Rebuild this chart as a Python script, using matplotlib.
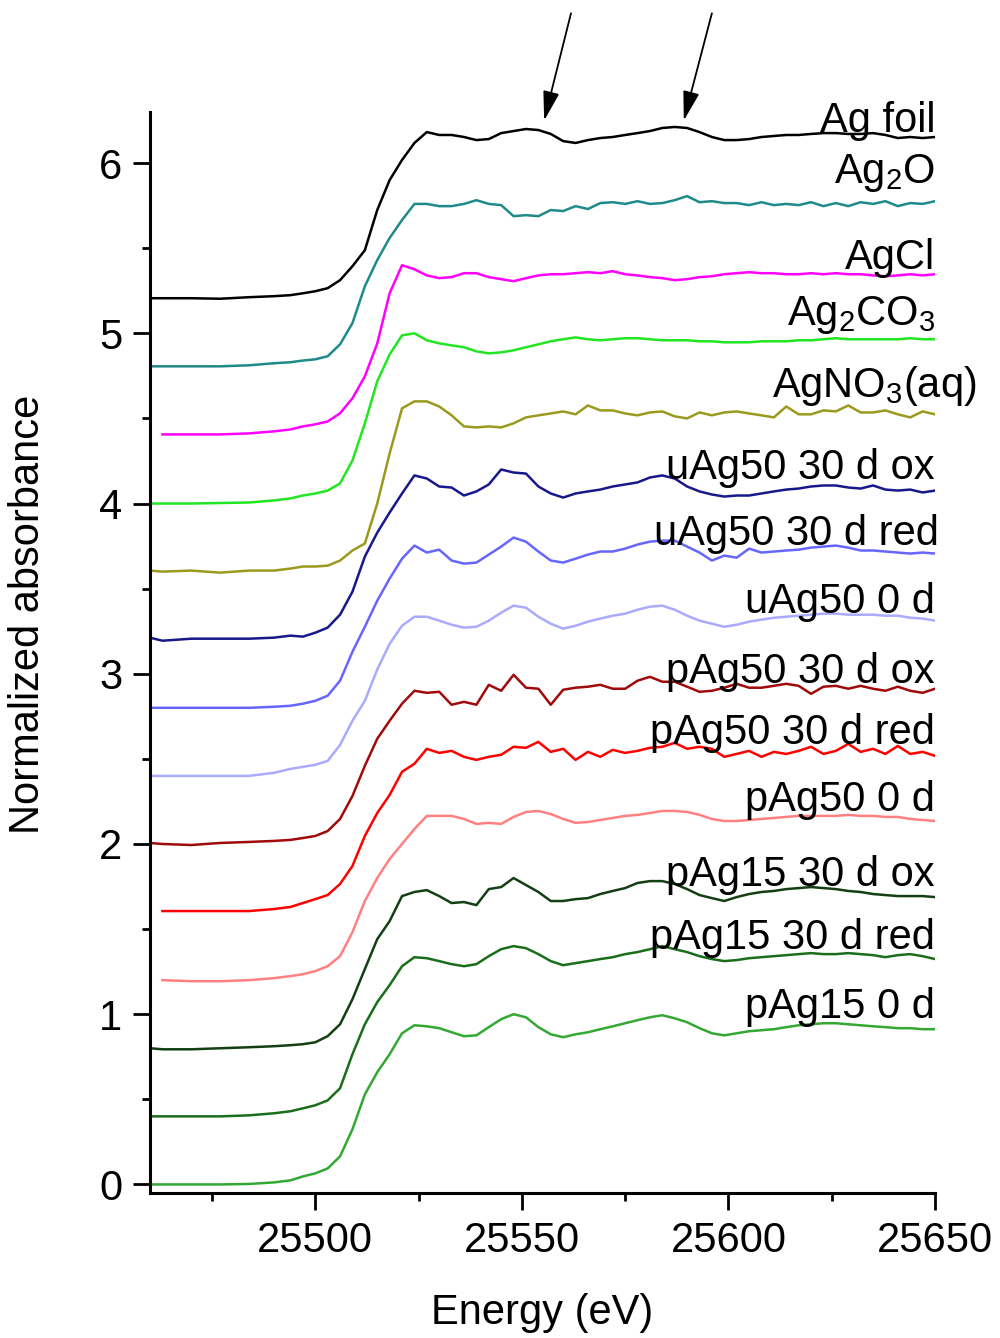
import numpy as np
import matplotlib
matplotlib.use("Agg")
import matplotlib.pyplot as plt
from matplotlib.ticker import MultipleLocator

plt.rcParams["font.family"] = ["Liberation Sans", "DejaVu Sans"]
plt.rcParams["mathtext.default"] = "regular"

nan = np.nan

# energy grid (eV): coarse pre-edge, then 3 eV steps
energy = [25460, 25463, 25470, 25477, 25484, 25490, 25494, 25497,
          25500, 25503, 25506, 25509, 25512, 25515, 25518, 25521, 25524, 25527,
          25530, 25533, 25536, 25539, 25542, 25545, 25548, 25551, 25554, 25557,
          25560, 25563, 25566, 25569, 25572, 25575, 25578, 25581, 25584, 25587,
          25590, 25593, 25596, 25599, 25602, 25605, 25608, 25611, 25614, 25617,
          25620, 25623, 25626, 25629, 25632, 25635, 25638, 25641, 25644, 25647,
          25650]

# normalized absorbance, bottom to top
pag15_0d = [0, 0, 0, 0, 0.003, 0.012, 0.024, 0.047,
            0.065, 0.094, 0.165, 0.324, 0.529, 0.659, 0.765, 0.888, 0.935, 0.929,
            0.918, 0.894, 0.871, 0.876, 0.924, 0.971, 1.0, 0.982, 0.924, 0.882,
            0.865, 0.882, 0.894, 0.912, 0.929, 0.947, 0.965, 0.982, 0.994, 0.976,
            0.953, 0.918, 0.888, 0.876, 0.888, 0.9, 0.906, 0.912, 0.924, 0.935,
            0.941, 0.947, 0.947, 0.941, 0.935, 0.929, 0.924, 0.918, 0.918, 0.912,
            0.912]
pag15_30d_red = [0, 0, 0, 0, 0.006, 0.018, 0.03, 0.047,
                 0.065, 0.094, 0.165, 0.365, 0.541, 0.671, 0.771, 0.882, 0.935, 0.929,
                 0.912, 0.894, 0.882, 0.894, 0.941, 0.982, 1.0, 0.988, 0.953, 0.912,
                 0.888, 0.9, 0.912, 0.924, 0.935, 0.953, 0.965, 0.982, 1.0, 0.982,
                 0.965, 0.941, 0.924, 0.912, 0.918, 0.929, 0.935, 0.941, 0.947, 0.953,
                 0.959, 0.953, 0.953, 0.959, 0.953, 0.947, 0.935, 0.947, 0.953, 0.941,
                 0.924]
pag15_30d_ox = [0, -0.006, -0.006, 0, 0.006, 0.012, 0.018, 0.024,
                0.035, 0.071, 0.141, 0.288, 0.465, 0.641, 0.747, 0.894, 0.918, 0.929,
                0.894, 0.853, 0.859, 0.841, 0.935, 0.947, 1.0, 0.959, 0.918, 0.865,
                0.865, 0.876, 0.882, 0.906, 0.924, 0.941, 0.971, 0.982, 0.982, 0.965,
                0.935, 0.9, 0.882, 0.865, 0.888, 0.906, 0.918, 0.924, 0.935, 0.941,
                0.947, 0.941, 0.935, 0.924, 0.918, 0.906, 0.9, 0.894, 0.894, 0.894,
                0.888]
pag50_0d = [nan, 0, -0.006, -0.006, 0, 0.012, 0.024, 0.035,
            0.053, 0.082, 0.141, 0.282, 0.465, 0.6, 0.712, 0.8, 0.888, 0.965,
            0.965, 0.965, 0.947, 0.918, 0.924, 0.918, 0.959, 0.988, 0.994, 0.976,
            0.947, 0.924, 0.929, 0.941, 0.953, 0.965, 0.971, 0.982, 0.994, 0.994,
            0.988, 0.971, 0.947, 0.935, 0.935, 0.941, 0.947, 0.953, 0.959, 0.965,
            0.965, 0.965, 0.965, 0.971, 0.965, 0.965, 0.959, 0.959, 0.947, 0.941,
            0.935]
pag50_30d_red = [nan, 0.006, 0.006, 0.006, 0.006, 0.018, 0.03, 0.053,
                 0.076, 0.1, 0.165, 0.271, 0.447, 0.582, 0.688, 0.824, 0.871, 0.959,
                 0.935, 0.947, 0.912, 0.894, 0.912, 0.924, 0.971, 0.965, 1.0, 0.941,
                 0.959, 0.894, 0.941, 0.912, 0.953, 0.935, 0.947, 0.965, 0.971, 0.994,
                 0.959, 0.971, 0.959, 0.912, 0.929, 0.947, 0.912, 0.941, 0.929, 0.947,
                 0.971, 0.929, 0.947, 0.988, 0.941, 0.959, 0.929, 0.976, 0.929, 0.941,
                 0.918]
pag50_30d_ox = [0.006, 0, -0.006, 0.006, 0.012, 0.018, 0.024, 0.035,
                0.047, 0.076, 0.147, 0.282, 0.459, 0.618, 0.724, 0.824, 0.9, 0.888,
                0.894, 0.818, 0.835, 0.818, 0.935, 0.9, 0.994, 0.918, 0.912, 0.818,
                0.906, 0.918, 0.924, 0.935, 0.912, 0.912, 0.959, 0.982, 0.953, 0.953,
                0.924, 0.894, 0.9, 0.918, 0.941, 0.918, 0.918, 0.929, 0.941, 0.929,
                0.882, 0.924, 0.929, 0.912, 0.929, 0.912, 0.9, 0.924, 0.9, 0.888,
                0.912]
uag50_0d = [0, 0, 0, 0, 0, 0.018, 0.041, 0.053,
            0.065, 0.088, 0.182, 0.324, 0.441, 0.625, 0.776, 0.882, 0.935, 0.935,
            0.912, 0.888, 0.871, 0.876, 0.912, 0.959, 1.0, 0.988, 0.935, 0.894,
            0.865, 0.882, 0.906, 0.924, 0.941, 0.953, 0.976, 0.994, 1.0, 0.976,
            0.941, 0.912, 0.894, 0.876, 0.888, 0.906, 0.918, 0.929, 0.935, 0.941,
            0.947, 0.953, 0.953, 0.947, 0.947, 0.947, 0.941, 0.941, 0.929, 0.924,
            0.912]
uag50_30d_red = [0, 0, 0, 0, 0, 0.006, 0.012, 0.024,
                 0.041, 0.071, 0.159, 0.329, 0.476, 0.629, 0.759, 0.876, 0.953, 0.912,
                 0.929, 0.865, 0.847, 0.853, 0.9, 0.947, 1.0, 0.976, 0.918, 0.865,
                 0.853, 0.876, 0.9, 0.918, 0.918, 0.935, 0.959, 0.976, 0.982, 0.982,
                 0.947, 0.912, 0.865, 0.894, 0.882, 0.935, 0.912, 0.918, 0.924, 0.929,
                 0.941, 0.947, 0.953, 0.941, 0.924, 0.924, 0.918, 0.912, 0.906, 0.912,
                 0.906]
uag50_30d_ox = [0.012, -0.006, 0.006, 0.006, 0.006, 0.012, 0.024, 0.018,
                0.041, 0.071, 0.147, 0.282, 0.488, 0.629, 0.747, 0.859, 0.965, 0.947,
                0.9, 0.894, 0.847, 0.871, 0.912, 1.0, 0.982, 0.976, 0.9, 0.859,
                0.835, 0.859, 0.871, 0.882, 0.9, 0.912, 0.924, 0.953, 0.965, 0.947,
                0.9, 0.871, 0.853, 0.841, 0.847, 0.847, 0.859, 0.871, 0.882, 0.888,
                0.9, 0.906, 0.906, 0.894, 0.888, 0.906, 0.882, 0.876, 0.882, 0.865,
                0.876]
agno3_aq = [0.006, 0, 0.006, -0.006, 0.006, 0.006, 0.018, 0.03,
            0.03, 0.035, 0.065, 0.124, 0.165, 0.4, 0.694, 0.959, 1.0, 1.0,
            0.97, 0.918, 0.853, 0.847, 0.853, 0.847, 0.871, 0.906, 0.918, 0.929,
            0.941, 0.924, 0.976, 0.947, 0.947, 0.929, 0.918, 0.935, 0.941, 0.912,
            0.9, 0.935, 0.918, 0.935, 0.941, 0.929, 0.918, 0.906, 0.97, 0.924,
            0.924, 0.947, 0.941, 0.976, 0.935, 0.935, 0.947, 0.924, 0.906, 0.941,
            0.924]
ag2co3 = [0, 0, 0, 0.003, 0.006, 0.018, 0.03, 0.047,
          0.059, 0.076, 0.118, 0.253, 0.47, 0.718, 0.876, 0.988, 1.0, 0.959,
          0.941, 0.929, 0.918, 0.894, 0.882, 0.888, 0.9, 0.918, 0.935, 0.953,
          0.965, 0.976, 0.965, 0.959, 0.965, 0.971, 0.971, 0.965, 0.959, 0.959,
          0.959, 0.953, 0.953, 0.947, 0.947, 0.947, 0.953, 0.953, 0.953, 0.959,
          0.959, 0.965, 0.971, 0.965, 0.965, 0.965, 0.965, 0.965, 0.971, 0.965,
          0.965]
agcl = [nan, 0.006, 0.006, 0.006, 0.012, 0.024, 0.035, 0.053,
        0.065, 0.082, 0.13, 0.218, 0.347, 0.54, 0.835, 1.0, 0.976, 0.94,
        0.924, 0.93, 0.953, 0.953, 0.93, 0.918, 0.906, 0.924, 0.94, 0.947,
        0.947, 0.953, 0.959, 0.953, 0.965, 0.947, 0.94, 0.93, 0.924, 0.912,
        0.918, 0.93, 0.935, 0.947, 0.953, 0.959, 0.953, 0.953, 0.947, 0.947,
        0.953, 0.947, 0.953, 0.947, 0.947, 0.94, 0.935, 0.94, 0.947, 0.94,
        0.947]
ag2o = [0.006, 0.006, 0.006, 0.006, 0.012, 0.024, 0.03, 0.04,
        0.047, 0.065, 0.135, 0.26, 0.476, 0.63, 0.76, 0.865, 0.96, 0.96,
        0.947, 0.947, 0.96, 0.982, 0.96, 0.953, 0.888, 0.894, 0.888, 0.924,
        0.918, 0.947, 0.93, 0.965, 0.97, 0.96, 0.976, 0.96, 0.965, 0.982,
        1.006, 0.97, 0.976, 0.965, 0.965, 0.953, 0.97, 0.953, 0.96, 0.953,
        0.97, 0.947, 0.965, 0.947, 0.97, 0.96, 0.976, 0.947, 0.965, 0.96,
        0.976]
ag_foil = [0.006, 0.006, 0.006, 0.003, 0.012, 0.018, 0.024, 0.035,
           0.047, 0.065, 0.112, 0.194, 0.288, 0.524, 0.70, 0.818, 0.918, 0.982,
           0.965, 0.965, 0.953, 0.935, 0.941, 0.976, 0.988, 1.0, 0.994, 0.971,
           0.929, 0.918, 0.935, 0.947, 0.953, 0.965, 0.976, 0.988, 1.006, 1.012,
           1.006, 0.982, 0.953, 0.935, 0.935, 0.941, 0.953, 0.959, 0.965, 0.965,
           0.971, 0.976, 0.976, 0.971, 0.971, 0.976, 0.965, 0.947, 0.953, 0.947,
           0.953]

spectra = [pag15_0d, pag15_30d_red, pag15_30d_ox,
           pag50_0d, pag50_30d_red, pag50_30d_ox,
           uag50_0d, uag50_30d_red, uag50_30d_ox,
           agno3_aq, ag2co3, agcl, ag2o, ag_foil]
names = ["pAg15 0 d", "pAg15 30 d red", "pAg15 30 d ox",
         "pAg50 0 d", "pAg50 30 d red", "pAg50 30 d ox",
         "uAg50 0 d", "uAg50 30 d red", "uAg50 30 d ox",
         "AgNO$_3$(aq)", "Ag$_2$CO$_3$", "AgCl", "Ag$_2$O", "Ag foil"]
colors = ["#33a833", "#1a6e1a", "#133f13",
          "#ff8080", "#ff0000", "#a00a0a",
          "#aaaaff", "#6666ff", "#18188c",
          "#9a9a1e", "#22e622", "#ff00ff", "#1f8a8a", "#000000"]
offset_step = 0.4
# label anchor (right edge x, centre y) for each curve
label_x = [25650, 25650, 25650, 25650, 25650, 25650,
           25650, 25651, 25650, 25660, 25650, 25650, 25650, 25650]
label_y = [1.04, 1.45, 1.82, 2.26, 2.65, 3.01, 3.42, 3.82, 4.21,
           4.69, 5.11, 5.44, 5.94, 6.25]

fig = plt.figure(figsize=(10, 13.38), dpi=100)
ax = fig.add_axes([0.15, 0.1084, 0.785, 0.8079])

for i, (mu, name, c) in enumerate(zip(spectra, names, colors)):
    ax.plot(energy, np.array(mu) + i * offset_step, color=c, lw=1.8)
    ax.text(label_x[i], label_y[i], name, ha="right", va="center",
            fontsize=30, clip_on=False)

# arrows pointing at the Ag foil features
for tip, tail in [((25555.4, 6.25), (25561.9, 6.88)),
                  ((25589.2, 6.25), (25596.0, 6.88))]:
    ax.annotate("", xy=tip, xytext=tail, annotation_clip=False,
                arrowprops=dict(arrowstyle="-|>,head_length=0.9,head_width=0.25",
                                color="black", lw=1.3, mutation_scale=20,
                                shrinkA=0, shrinkB=0))

ax.set_xlim(25460, 25650)
ax.set_ylim(-0.05, 6.3)
ax.xaxis.set_major_locator(MultipleLocator(50))
ax.xaxis.set_minor_locator(MultipleLocator(25))
ax.yaxis.set_major_locator(MultipleLocator(1))
ax.yaxis.set_minor_locator(MultipleLocator(0.5))
ax.set_xticks([25500, 25550, 25600, 25650])
ax.tick_params(which="major", direction="out", length=12, width=2,
               labelsize=30, pad=8)
ax.tick_params(which="minor", direction="out", length=6, width=2)
for side in ["top", "right"]:
    ax.spines[side].set_visible(False)
for side in ["left", "bottom"]:
    ax.spines[side].set_linewidth(2.2)

ax.set_xlabel("Energy (eV)", fontsize=30, labelpad=23)
ax.set_ylabel("Normalized absorbance", fontsize=30)
ax.yaxis.set_label_coords(-0.13, 0.535)

fig.savefig("out.png", dpi=100)
